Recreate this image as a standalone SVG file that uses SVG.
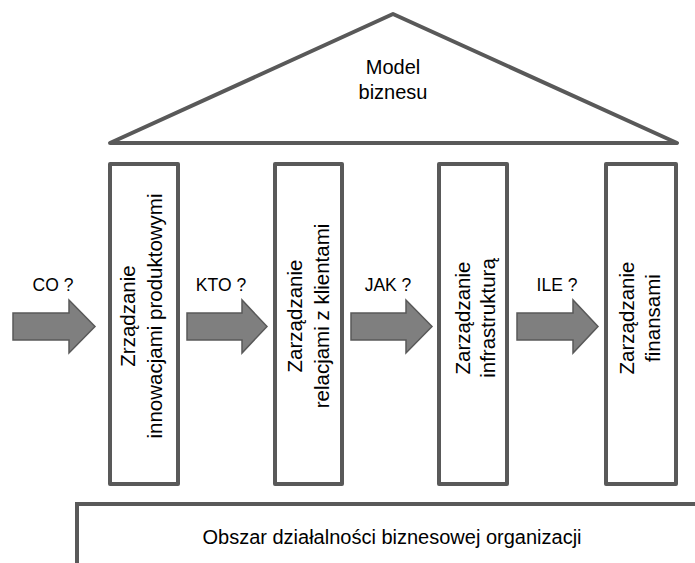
<svg xmlns="http://www.w3.org/2000/svg" width="695" height="563" viewBox="0 0 695 563">
  <defs>
    <style>
      .frame { fill: #ffffff; stroke: #595959; stroke-width: 4; stroke-linejoin: round; }
      .line { fill: none; stroke: #595959; stroke-width: 4; }
      .arrow { fill: #7f7f7f; stroke: #595959; stroke-width: 1.5; stroke-linejoin: miter; }
      .txt { font-family: "Liberation Sans", Arial, sans-serif; fill: #000000; text-anchor: middle; }
      .big { font-size: 20px; }
      .pil { font-size: 20.5px; }
      .lbl { font-size: 17.5px; }
    </style>
  </defs>

  <!-- roof: business model -->
  <g id="roof">
    <polygon class="frame" points="110,143 393,14 677,143"/>
    <text class="txt big" x="393" y="74">Model</text>
    <text class="txt big" x="393" y="99">biznesu</text>
  </g>

  <!-- pillars -->
  <g id="pillar-innowacje">
    <rect class="frame" x="110" y="164" width="68" height="320"/>
    <text class="txt pil" transform="translate(134.5,316) rotate(-90)">Zrządzanie</text>
    <text class="txt pil" transform="translate(161.5,316) rotate(-90)">innowacjami produktowymi</text>
  </g>
  <g id="pillar-klienci">
    <rect class="frame" x="275" y="164" width="67" height="320"/>
    <text class="txt pil" transform="translate(301.5,316) rotate(-90)">Zarządzanie</text>
    <text class="txt pil" transform="translate(328.5,316) rotate(-90)">relacjami z klientami</text>
  </g>
  <g id="pillar-infrastruktura">
    <rect class="frame" x="439" y="164" width="68" height="320"/>
    <text class="txt pil" transform="translate(469.5,318) rotate(-90)">Zarządzanie</text>
    <text class="txt pil" transform="translate(494.5,318) rotate(-90)">infrastrukturą</text>
  </g>
  <g id="pillar-finanse">
    <rect class="frame" x="606" y="164" width="70" height="320"/>
    <text class="txt pil" transform="translate(633.5,318) rotate(-90)">Zarządzanie</text>
    <text class="txt pil" transform="translate(659.5,318) rotate(-90)">finansami</text>
  </g>

  <!-- foundation -->
  <g id="foundation">
    <path class="line" d="M77,565 V504 H697"/>
    <text class="txt big" x="392" y="544">Obszar działalności biznesowej organizacji</text>
  </g>

  <!-- flow arrows with their questions -->
  <g id="connectors">
    <polygon class="arrow" points="13,313 69,313 69,300 95,326.5 69,353 69,340 13,340"/>
    <polygon class="arrow" points="187,313 242,313 242,300 267,326.5 242,353 242,340 187,340"/>
    <polygon class="arrow" points="351,313 406,313 406,300 432,326.5 406,353 406,340 351,340"/>
    <polygon class="arrow" points="517,313 573,313 573,300 598,326.5 573,353 573,340 517,340"/>
    <text class="txt lbl" x="53" y="291">CO ?</text>
    <text class="txt lbl" x="221" y="291">KTO ?</text>
    <text class="txt lbl" x="388" y="291">JAK ?</text>
    <text class="txt lbl" x="557" y="291">ILE ?</text>
  </g>
</svg>
